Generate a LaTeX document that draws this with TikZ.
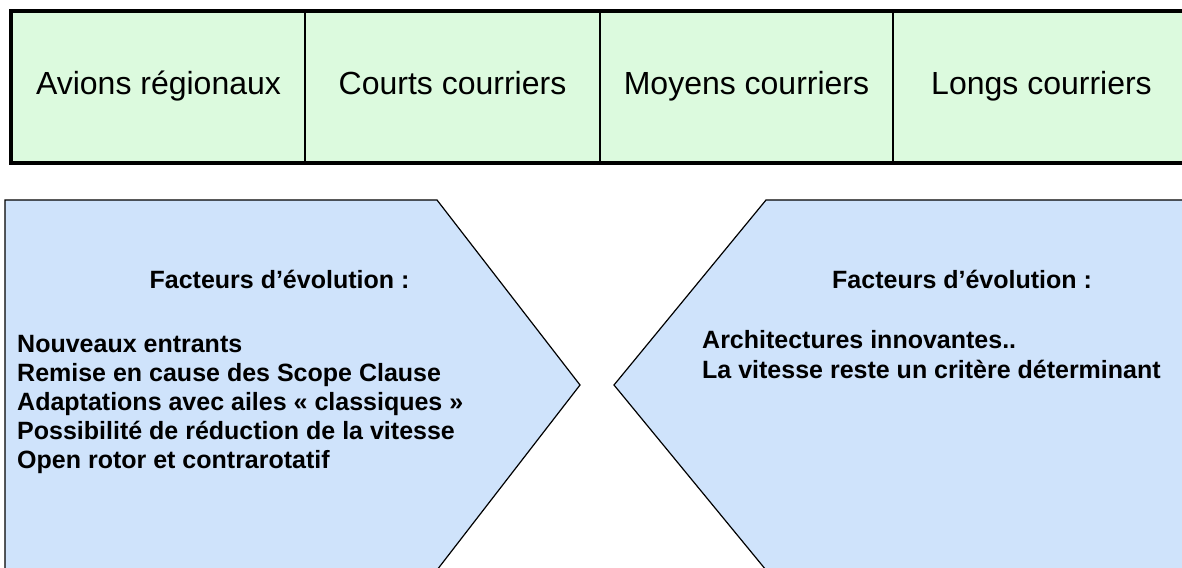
\documentclass[tikz,border=0pt]{standalone}
\usepackage{fontspec}
\setmainfont{Liberation Sans}
\definecolor{cellgreen}{RGB}{220,250,222}
\definecolor{boxblue}{RGB}{207,227,251}
\tikzset{
  cell/.style={fill=cellgreen, draw=black, line width=1.2pt, inner sep=0pt,
    minimum height=150pt, text height=23.6pt, text depth=7.9pt,
    font=\fontsize{32}{36}\selectfont},
  outline/.style={draw=black, line width=4pt},
  arrowbox/.style={fill=boxblue, draw=black, line width=1.2pt, line join=miter},
  head/.style={anchor=base, inner sep=0pt, font=\fontsize{25}{29}\selectfont\bfseries},
  item/.style={anchor=base west, inner sep=0pt, font=\fontsize{25}{29}\selectfont\bfseries}
}
\begin{document}
\begin{tikzpicture}[x=1pt,y=-1pt]
\useasboundingbox (0,0) rectangle (1182,567);
% table
\node[cell, minimum width=293pt] (c1) at (158.5,87) {Avions régionaux};
\node[cell, minimum width=295pt] (c2) at (452.5,87) {Courts courriers};
\node[cell, minimum width=293pt] (c3) at (746.5,87) {Moyens courriers};
\node[cell, minimum width=297pt] (c4) at (1041.5,87) {Longs courriers};
\draw[outline] (c4.north east) -- (c1.north west) -- (c1.south west) -- (c4.south east);
% arrow shapes
\draw[arrowbox] (5,200) -- (437,200) -- (580,385) -- (437,570) -- (5,570) -- cycle;
\draw[arrowbox] (1195,200) -- (766,200) -- (614,385) -- (766,570) -- (1195,570);
% left texts
\node[head] (lh) at (279.5,288) {Facteurs d’évolution :};
\node[item] (l1) at (17,352) {Nouveaux entrants};
\node[item] (l2) at (17,381) {Remise en cause des Scope Clause};
\node[item] (l3) at (17,410) {Adaptations avec ailes « classiques »};
\node[item] (l4) at (17,439) {Possibilité de réduction de la vitesse};
\node[item] (l5) at (17,468) {Open rotor et contrarotatif};
% right texts
\node[head, anchor=base west] (rh) at (832,288) {Facteurs d’évolution :};
\node[item] (r1) at (702,348) {Architectures innovantes..};
\node[item] (r2) at (702,378) {La vitesse reste un critère déterminant};
\end{tikzpicture}
\end{document}
